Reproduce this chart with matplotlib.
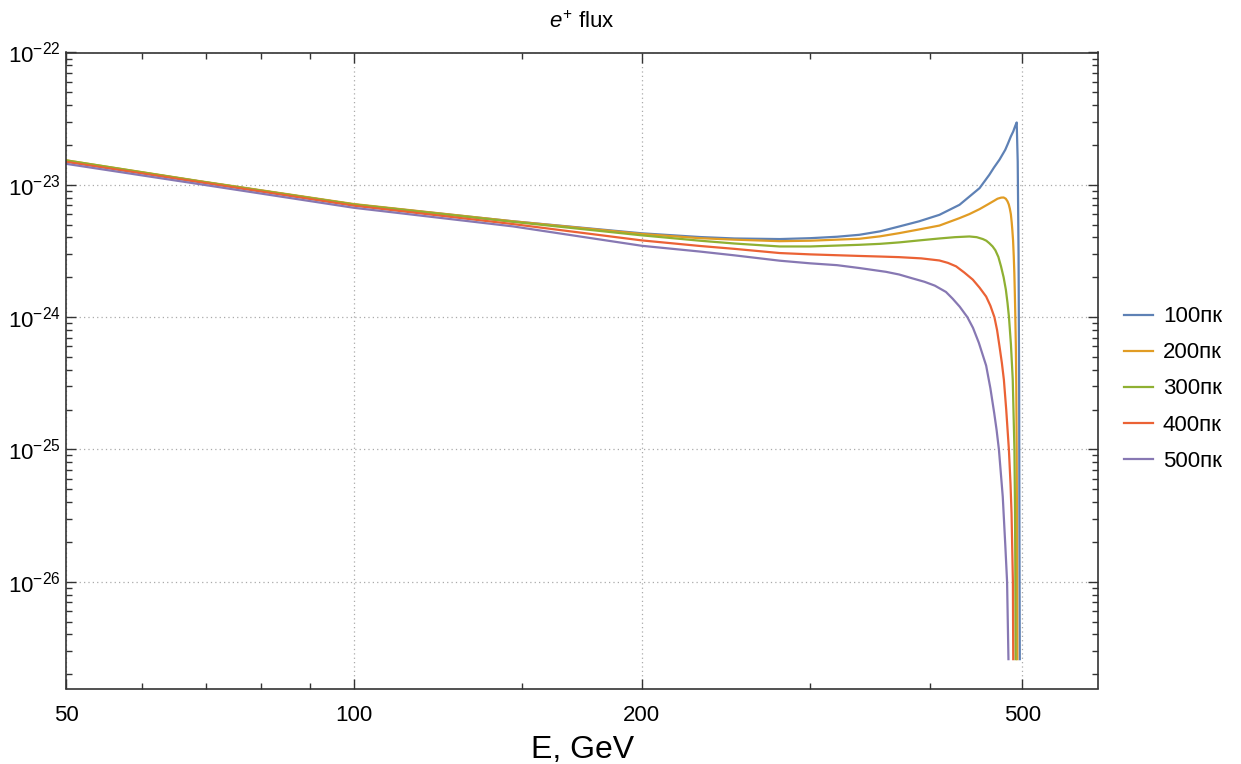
import matplotlib
matplotlib.use("Agg")
import matplotlib.pyplot as plt
from matplotlib.ticker import FixedLocator, FuncFormatter, NullFormatter

plt.rcParams['font.family'] = ['Liberation Sans', 'DejaVu Sans']
plt.rcParams['mathtext.fontset'] = 'custom'
plt.rcParams['mathtext.rm'] = 'Liberation Sans'
plt.rcParams['mathtext.it'] = 'Liberation Sans:italic'

# positron flux vs energy (GeV) for sources at different distances
E_100 = [50, 69, 100, 146.6, 200, 230, 250, 278.7, 300, 320, 337.7, 355, 371.6, 390,
         409.5, 429.8, 451.1, 461.8, 467, 473.3, 479.9, 483, 486.4, 489.2, 491.5, 493.3,
         494.5, 495.5, 496.2, 496.6, 497.0]
F_100 = [1.51e-23, 1.06e-23, 7.1e-24, 5.3e-24, 4.3e-24, 4.03e-24, 3.93e-24, 3.89e-24,
         3.95e-24, 4.05e-24, 4.19e-24, 4.45e-24, 4.84e-24, 5.3e-24, 5.93e-24, 7.06e-24,
         9.44e-24, 1.19e-23, 1.35e-23, 1.55e-23, 1.84e-23, 2.05e-23, 2.32e-23, 2.53e-23,
         2.78e-23, 2.96e-23, 1.5e-23, 3e-24, 3e-25, 2e-26, 2.6e-27]

E_200 = [50, 69, 100, 146.6, 200, 230, 250, 278.7, 300, 337.7, 355, 371.6, 390, 409.5,
         429.8, 440, 451.1, 460, 467.5, 471, 475.1, 478, 480.5, 482.5, 484, 485.2, 486.4,
         487.4, 488.2, 489.0, 489.8, 490.5, 491.1, 491.6, 492.3, 492.8, 493.3, 493.7, 494.0]
F_200 = [1.53e-23, 1.065e-23, 7.15e-24, 5.3e-24, 4.25e-24, 3.95e-24, 3.85e-24, 3.75e-24,
         3.78e-24, 3.91e-24, 4.08e-24, 4.31e-24, 4.6e-24, 4.92e-24, 5.6e-24, 6.0e-24,
         6.55e-24, 7.1e-24, 7.6e-24, 7.85e-24, 8.0e-24, 8.02e-24, 7.85e-24, 7.5e-24,
         7.1e-24, 6.6e-24, 6.0e-24, 5.2e-24, 4.5e-24, 3.8e-24, 2.9e-24, 2.15e-24, 1.5e-24,
         1.07e-24, 6e-25, 3e-25, 1e-25, 2e-26, 2.6e-27]

E_300 = [50, 69, 100, 146.6, 200, 230, 250, 278.7, 300, 337.7, 355, 371.6, 390, 409.5,
         425, 440.2, 448, 454.7, 458.5, 461.8, 465.5, 468.6, 472, 475.0, 478, 480.6, 482.5,
         484.2, 486.5, 488.6, 490.6, 491.3, 491.7, 492.0]
F_300 = [1.53e-23, 1.06e-23, 7.1e-24, 5.25e-24, 4.15e-24, 3.78e-24, 3.6e-24, 3.42e-24,
         3.42e-24, 3.52e-24, 3.58e-24, 3.67e-24, 3.8e-24, 3.93e-24, 4.02e-24, 4.07e-24,
         4.02e-24, 3.89e-24, 3.78e-24, 3.62e-24, 3.42e-24, 3.2e-24, 2.85e-24, 2.42e-24,
         2.0e-24, 1.61e-24, 1.28e-24, 1.0e-24, 6.2e-25, 3.4e-25, 1e-25, 3.5e-26, 1e-26,
         2.6e-27]

E_400 = [50, 69, 100, 146.6, 200, 230, 250, 278.7, 300, 337.7, 355, 371.6, 392.0, 409.5,
         418, 426.3, 434.9, 443.8, 451.1, 458.3, 463, 467.5, 470.5, 473.3, 476, 478.3, 481,
         484.1, 486, 487.2, 488.8, 489.2]
F_400 = [1.49e-23, 1.045e-23, 6.95e-24, 5.05e-24, 3.8e-24, 3.45e-24, 3.28e-24, 3.05e-24,
         2.98e-24, 2.9e-24, 2.87e-24, 2.84e-24, 2.78e-24, 2.68e-24, 2.57e-24, 2.42e-24,
         2.17e-24, 1.92e-24, 1.67e-24, 1.43e-24, 1.22e-24, 1.0e-24, 8e-25, 6.0e-25, 4.5e-25,
         3.36e-25, 2.0e-25, 1e-25, 5.5e-26, 3.3e-26, 1e-26, 2.6e-27]

E_500 = [50, 69, 100, 146.6, 200, 230, 250, 278.7, 300, 320, 337.7, 360, 371.6, 384, 395,
         405, 416, 422.7, 430, 438, 444, 450.3, 458.3, 463, 467.3, 470, 472.6, 477, 480,
         482, 483.6]
F_500 = [1.44e-23, 1.01e-23, 6.7e-24, 4.85e-24, 3.46e-24, 3.13e-24, 2.93e-24, 2.67e-24,
         2.55e-24, 2.47e-24, 2.35e-24, 2.2e-24, 2.1e-24, 1.96e-24, 1.85e-24, 1.73e-24,
         1.55e-24, 1.38e-24, 1.2e-24, 1.0e-24, 8.3e-25, 6.4e-25, 4.3e-25, 2.9e-25, 1.88e-25,
         1.4e-25, 1e-25, 4.4e-26, 1.85e-26, 1e-26, 2.6e-27]

labels = ['100пк', '200пк', '300пк', '400пк', '500пк']
colors = ['#5E81B5', '#E19C24', '#8FB032', '#EB6235', '#8778B3']

x_major = [50, 100, 200, 500]
x_minor = [60, 70, 80, 90, 150, 300, 400]
y_major = [1e-26, 1e-25, 1e-24, 1e-23, 1e-22]
y_minor = [m * 10.0 ** p for p in range(-27, -22) for m in range(2, 10)]

fig = plt.figure(figsize=(12.41, 7.64), dpi=100)
ax = fig.add_axes([66.3 / 1241, 1 - 688.5 / 764, (1098 - 66.3) / 1241, (688.5 - 52.5) / 764])

series = [(E_100, F_100), (E_200, F_200), (E_300, F_300), (E_400, F_400), (E_500, F_500)]
for (e, f), lab, c in zip(series, labels, colors):
    ax.plot(e, f, color=c, lw=1.6, label=lab, solid_joinstyle='round')

ax.set_xscale('log')
ax.set_yscale('log')
ax.set_xlim(50, 600)
ax.set_ylim(1.56e-27, 1e-22)

ax.xaxis.set_major_locator(FixedLocator(x_major))
ax.xaxis.set_minor_locator(FixedLocator(x_minor))
ax.xaxis.set_major_formatter(FuncFormatter(lambda v, p: f'{v:g}'))
ax.xaxis.set_minor_formatter(NullFormatter())
ax.yaxis.set_major_locator(FixedLocator(y_major))
ax.yaxis.set_minor_locator(FixedLocator(y_minor))
ax.yaxis.set_minor_formatter(NullFormatter())

ax.tick_params(which='both', direction='in', top=True, right=True, color='#333333', width=1.0)
ax.tick_params(which='major', length=7)
ax.tick_params(which='minor', length=4)
ax.tick_params(axis='x', labelsize=16, pad=12)
ax.tick_params(axis='y', labelsize=16, pad=4)
for s in ax.spines.values():
    s.set_color('#333333')
    s.set_linewidth(1.2)

ax.grid(True, which='major', color='#aaaaaa', lw=0.9, linestyle=(0, (1, 2.5)))

ax.set_title(r'$e^{+}$ flux', fontsize=16, pad=18)
ax.set_xlabel('E, GeV', fontsize=23, labelpad=6)

ax.legend(loc='center left', bbox_to_anchor=(1124 / 1241, 1 - 389 / 764),
          bbox_transform=fig.transFigure, frameon=False, fontsize=16,
          handlelength=1.3, handletextpad=0.45, labelspacing=0.68,
          borderpad=0, borderaxespad=0)

fig.savefig('out.png', dpi=100)
